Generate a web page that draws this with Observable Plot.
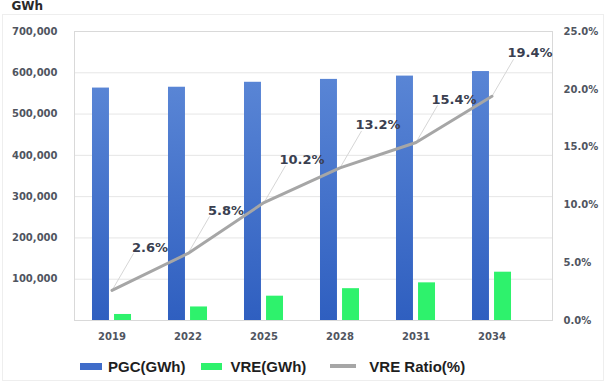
<!DOCTYPE html>
<html>
<head>
<meta charset="utf-8">
<script src="https://cdn.jsdelivr.net/npm/d3@7"></script>
<script src="https://cdn.jsdelivr.net/npm/@observablehq/plot@0.6"></script>
<style>
  html, body { margin: 0; padding: 0; background: #fff; }
  #wrap { position: relative; width: 607px; height: 384px; overflow: hidden; }
  #box { position: absolute; left: 2px; top: 14px; width: 602px; height: 367px; border: 1px solid #eeeeee; box-sizing: border-box; }
  #chart { position: absolute; left: 0; top: 0; }
  #legend { position: absolute; left: 0; top: 348px; width: 607px; height: 36px; display: flex; align-items: center;
            padding-left: 80px; box-sizing: border-box; font-family: "Liberation Sans", Arial, sans-serif;
            font-weight: bold; font-size: 15px; color: #1e1e1e; }
  .item { display: flex; align-items: center; }
  .sw { display: inline-block; }
</style>
</head>
<body>
<div id="wrap">
  <div id="box"></div>
  <div id="chart"></div>
  <div id="legend">
    <span class="item" style="margin-right:16px"><span class="sw" style="width:22px;height:7px;background:#3f6cc9;margin-right:6px"></span>PGC(GWh)</span>
    <span class="item" style="margin-right:24px"><span class="sw" style="width:21px;height:7px;background:#2ef26c;margin-right:8px"></span>VRE(GWh)</span>
    <span class="item"><span class="sw" style="width:26px;height:4px;background:#a6a6a6;margin-right:13px"></span>VRE Ratio(%)</span>
  </div>
</div>
<script>
// Power generation outlook by year
const years = [2019, 2022, 2025, 2028, 2031, 2034];
const pgc = [563000, 565000, 577000, 584000, 592000, 603000];   // total generation, GWh
const vre = [14600, 32800, 58900, 77100, 91200, 117000];        // variable renewables, GWh
const vreRatio = [2.6, 5.8, 10.2, 13.2, 15.4, 19.4];            // VRE share, %

const leftTicks = [100000, 200000, 300000, 400000, 500000, 600000, 700000];
const rightTicks = [0, 5, 10, 15, 20, 25];

// right axis (0–25 %) shares the left scale (0–700,000 GWh)
const yMax = 700000, pctMax = 25;
const pctToY = p => p * yMax / pctMax;

const rows = years.map((year, i) => ({year, pgc: pgc[i], vre: vre[i], ratio: vreRatio[i]}));

const tickFont = {fontSize: 10, fontWeight: "bold", fill: "#50555f", fontFamily: "DejaVu Sans"};

const chart = Plot.plot({
  width: 607,
  height: 348,
  marginTop: 31,
  marginBottom: 28,
  marginLeft: 74,
  marginRight: 55,
  style: {fontFamily: "DejaVu Sans", background: "transparent"},
  x: {type: "linear", domain: [2017.5, 2035.5], range: [73.5, 529.5]},
  y: {domain: [0, yMax]},
  marks: [
    Plot.gridY(d3.range(0, yMax + 1, 100000), {stroke: "#e6e6e6", strokeOpacity: 1}),
    Plot.frame({stroke: "#d9d9d9"}),
    Plot.rectY(rows, {x1: d => d.year - 0.77, x2: d => d.year - 0.1, y: "pgc", fill: "url(#pgcGrad)"}),
    Plot.rectY(rows, {x1: d => d.year + 0.1, x2: d => d.year + 0.77, y: "vre", fill: "#2ef26c"}),
    Plot.link(rows, {
      x1: "year", y1: d => pctToY(d.ratio),
      x2: d => d.year + 0.85, y2: d => pctToY(d.ratio + 3.2),
      stroke: "#d6d6d6", strokeWidth: 1
    }),
    Plot.line(rows, {x: "year", y: d => pctToY(d.ratio), stroke: "#a6a6a6", strokeWidth: 3}),
    Plot.text(rows, {
      x: "year", y: d => pctToY(d.ratio), text: d => d.ratio.toFixed(1) + "%",
      dx: 38, dy: -43, fontSize: 13, fontWeight: "bold", fill: "#3a3f50", fontFamily: "DejaVu Sans"
    }),
    Plot.axisX({ticks: years, tickFormat: d => String(d), tickSize: 0, tickPadding: 12, ...tickFont, label: null}),
    Plot.axisY({ticks: leftTicks, tickFormat: d3.format(","), tickSize: 0, tickPadding: 17, ...tickFont, label: null}),
    Plot.axisY({anchor: "right", ticks: rightTicks.map(pctToY), tickFormat: d => (d * pctMax / yMax).toFixed(1) + "%",
                tickSize: 0, tickPadding: 11, ...tickFont, label: null}),
    Plot.text(["GWh"], {frameAnchor: "top-left", dx: -63, dy: -30, lineAnchor: "top", textAnchor: "start",
                        fontSize: 12, fontWeight: "bold", fill: "#2a2a2a", fontFamily: "DejaVu Sans"})
  ]
});

// vertical shading on the generation bars
chart.insertAdjacentHTML("afterbegin",
  `<defs><linearGradient id="pgcGrad" x1="0" y1="0" x2="0" y2="1">
     <stop offset="0" stop-color="#5985d5"/><stop offset="1" stop-color="#2f5fc0"/>
   </linearGradient></defs>`);

document.getElementById("chart").appendChild(chart);
</script>
</body>
</html>
